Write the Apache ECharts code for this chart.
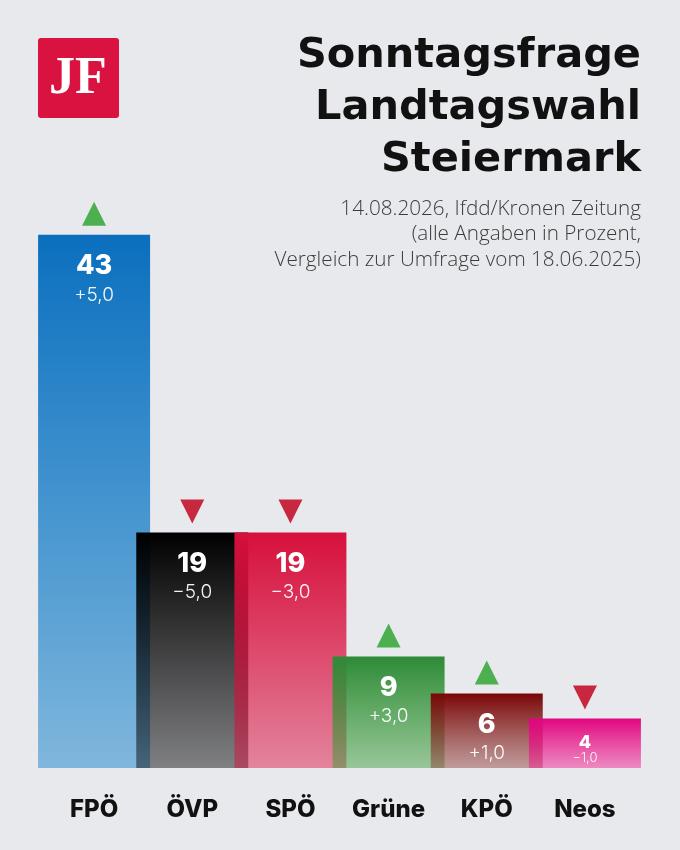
<!DOCTYPE html>
<html><head><meta charset="utf-8">
<script src="https://cdn.jsdelivr.net/npm/echarts@6/dist/echarts.min.js"></script>
<style>html,body{margin:0;padding:0;background:#e8e9ed}#c{width:680px;height:850px}</style>
</head><body><div id="c"></div>
<script>
const categories = ['FPÖ','ÖVP','SPÖ','Grüne','KPÖ','Neos'];
const values = [43, 19, 19, 9, 6, 4];
const changes = ['+5,0','\u22125,0','\u22123,0','+3,0','+1,0','\u22121,0'];
const trends = ['up','down','down','up','up','down'];
const titleText = 'Sonntagsfrage\nLandtagswahl\nSteiermark';
const subText = '14.08.2026, Ifdd/Kronen Zeitung\n(alle Angaben in Prozent,\nVergleich zur Umfrage vom 18.06.2025)';
const topColors = ['rgba(11,111,190,1)','rgba(0,0,0,1)','rgba(214,16,60,1)','rgba(46,138,56,1)','rgba(122,6,6,1)','rgba(224,6,126,1)'];
const bottomColors = ['rgba(0,120,200,0.45)','rgba(0,0,0,0.45)','rgba(220,9,58,0.45)','rgba(53,155,49,0.45)','rgba(142,58,53,0.45)','rgba(240,22,140,0.45)'];

const BAR_W = 112;
const chart = echarts.init(document.getElementById('c'), null, {renderer:'canvas'});
const FONT = 'Inter, Roboto, "Noto Sans", sans-serif';

function grad(i){
  return new echarts.graphic.LinearGradient(0, 0, 0, 1,
    [{offset:0,color:topColors[i]},{offset:1,color:bottomColors[i]}]);
}

chart.setOption({
  backgroundColor:'#e8e9ed',
  animation:false,
  graphic:[
    {type:'rect', left:38, top:38, shape:{width:81, height:80, r:3}, style:{fill:'#d9123f'}},
    {type:'text', x:78, y:80, style:{text:'JF', font:'bold 52px "Liberation Serif", "DejaVu Serif", serif', fill:'#fff', textAlign:'center', textVerticalAlign:'middle'}},
    {type:'text', x:641, y:30, style:{text:titleText, font:'bold 41.5px "DejaVu Sans", sans-serif', lineHeight:52, fill:'#111', textAlign:'right', textVerticalAlign:'top'}},
    {type:'text', x:641, y:196, style:{text:subText, font:'300 20.7px "Open Sans", sans-serif', lineHeight:25.5, fill:'#3c3c3c', textAlign:'right', textVerticalAlign:'top'}}
  ],
  grid:{left:45, right:46, top:148, bottom:82},
  xAxis:{type:'category', data:categories,
    axisLine:{show:false}, axisTick:{show:false},
    axisLabel:{margin:30, fontFamily:FONT, fontSize:24, fontWeight:800, color:'#111'}},
  yAxis:{type:'value', min:0, max:50, show:false},
  series:[{
    type:'custom',
    data:values.map((v,i)=>[i,v]),
    clip:false,
    renderItem(params, api){
      const i = params.dataIndex;
      const v = api.value(1);
      const base = api.coord([i,0]);
      const top = api.coord([i,v]);
      const cx = top[0];
      const h = base[1]-top[1];
      const children = [{
        type:'rect',
        shape:{x:cx-BAR_W/2, y:top[1], width:BAR_W, height:h},
        style:{fill:grad(i)}
      }];
      const small = h < 60;
      children.push({type:'text', x:cx, y:top[1]+(small?24:31),
        style:{text:String(v), fill:'#fff', font:(small?'800 18px ':'800 27px ')+FONT, textAlign:'center', textVerticalAlign:'middle'}});
      children.push({type:'text', x:cx, y:top[1]+(small?40:60),
        style:{text:changes[i], fill:'rgba(255,255,255,0.95)', font:(small?'300 13px ':'300 19px ')+FONT, textAlign:'center', textVerticalAlign:'middle'}});
      const tb = top[1]-9, tt = top[1]-33, hw = 12;
      const pts = trends[i]==='up'
        ? [[cx-hw,tb],[cx+hw,tb],[cx,tt]]
        : [[cx-hw,tt],[cx+hw,tt],[cx,tb]];
      children.push({type:'polygon', shape:{points:pts},
        style:{fill: trends[i]==='up' ? '#4caf50' : '#c8283f'}});
      return {type:'group', children};
    }
  }]
});
</script></body></html>
